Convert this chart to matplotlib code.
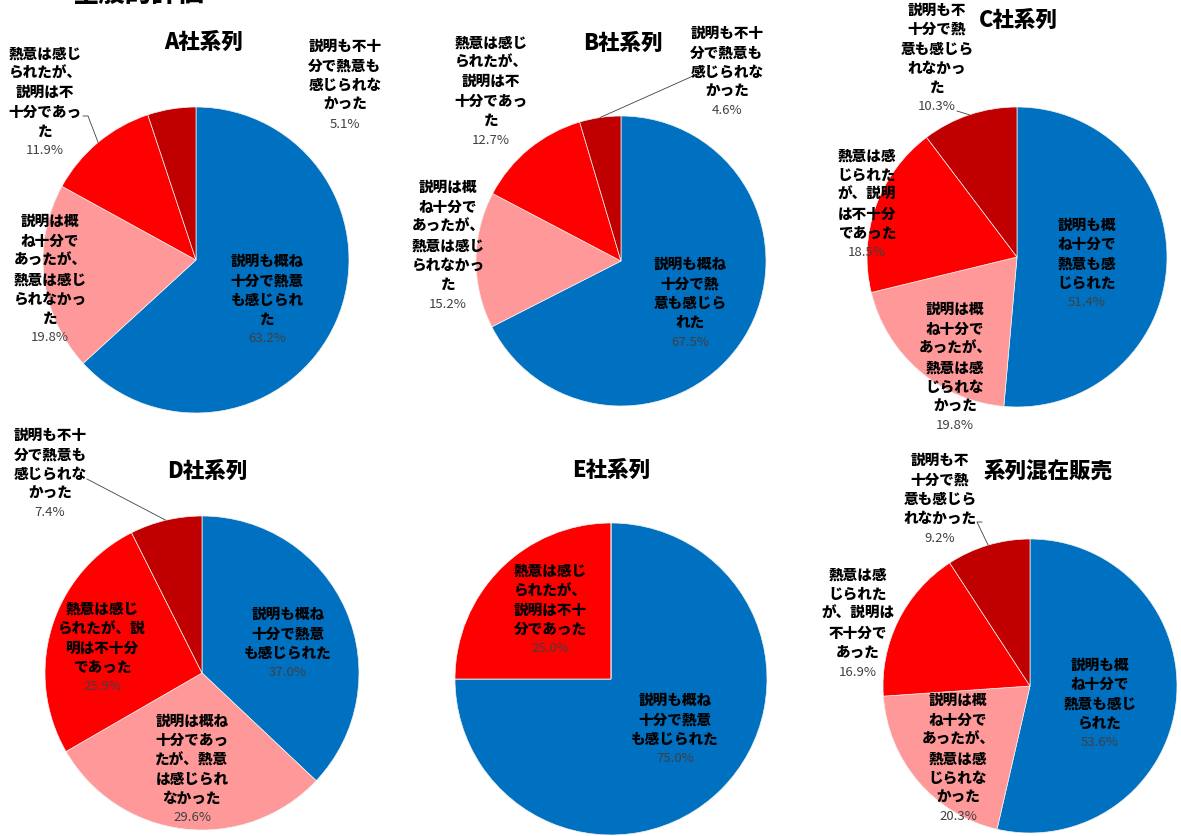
import matplotlib
matplotlib.use('Agg')
import matplotlib.pyplot as plt
import numpy as np

plt.rcParams['font.family'] = ['Noto Sans CJK JP', 'DejaVu Sans']

W, H = 1181, 837

# ---------------- data ----------------
categories = ['説明も概ね十分で熱意も感じられた',
              '説明は概ね十分であったが、熱意は感じられなかった',
              '熱意は感じられたが、説明は不十分であった',
              '説明も不十分で熱意も感じられなかった']
colors = ['#0070C0', '#FF9999', '#FF0000', '#C00000']

main_title = '全般的評価'
titles = ['A社系列', 'B社系列', 'C社系列', 'D社系列', 'E社系列', '系列混在販売']

values_A = [63.2, 19.8, 11.9, 5.1]
values_B = [67.5, 15.2, 12.7, 4.6]
values_C = [51.4, 19.8, 18.5, 10.3]
values_D = [37.0, 29.6, 25.9, 7.4]
values_E = [75.0, 0.0, 25.0, 0.0]
values_M = [53.6, 20.3, 16.9, 9.2]
all_values = [values_A, values_B, values_C, values_D, values_E, values_M]

# wrapped label text (as displayed)
wrap_A = ['説明も概ね\n十分で熱意\nも感じられ\nた', '説明は概\nね十分で\nあったが、\n熱意は感じ\nられなかっ\nた',
          '熱意は感じ\nられたが、\n説明は不\n十分であっ\nた', '説明も不十\n分で熱意も\n感じられな\nかった']
wrap_B = ['説明も概ね\n十分で熱\n意も感じら\nれた', '説明は概\nね十分で\nあったが、\n熱意は感じ\nられなかっ\nた',
          '熱意は感じ\nられたが、\n説明は不\n十分であっ\nた', '説明も不十\n分で熱意も\n感じられな\nかった']
wrap_C = ['説明も概\nね十分で\n熱意も感\nじられた', '説明は概\nね十分で\nあったが、\n熱意は感\nじられな\nかった',
          '熱意は感\nじられた\nが、説明\nは不十分\nであった', '説明も不\n十分で熱\n意も感じら\nれなかっ\nた']
wrap_D = ['説明も概ね\n十分で熱意\nも感じられた', '説明は概ね\n十分であっ\nたが、熱意\nは感じられ\nなかった',
          '熱意は感じ\nられたが、説\n明は不十分\nであった', '説明も不十\n分で熱意も\n感じられな\nかった']
wrap_E = ['説明も概ね\n十分で熱意\nも感じられた', '', '熱意は感じ\nられたが、\n説明は不十\n分であった', '']
wrap_M = ['説明も概\nね十分で\n熱意も感じ\nられた', '説明は概\nね十分で\nあったが、\n熱意は感\nじられな\nかった',
          '熱意は感\nじられた\nが、説明は\n不十分で\nあった', '説明も不\n十分で熱\n意も感じら\nれなかった']
all_wraps = [wrap_A, wrap_B, wrap_C, wrap_D, wrap_E, wrap_M]

# ---------------- layout (pixels) ----------------
pie_geom = [(196, 261, 153), (621, 262, 145), (1017, 258, 150),
            (202, 674, 157), (611, 680, 156), (1030, 687, 147)]
title_pos = [(204, 42), (623, 43), (1018, 20), (207, 471), (611, 470), (1048, 471)]
# centre of percentage line per slice
pct_pos = [
    [(267, 339), (50, 338), (45, 151), (345, 124)],
    [(690, 342), (448, 304), (491, 140), (727, 111)],
    [(1087, 303), (955, 426), (867, 253), (937, 107)],
    [(288, 673), (192, 818), (102, 687), (50, 513)],
    [(675, 759), None, (550, 649), None],
    [(1100, 743), (958, 817), (858, 672), (940, 538)],
]
# leader line starting points (pixels) : (chart, slice) -> list of points
leaders = {
    (0, 2): [(83, 117), (88, 117)],
    (1, 3): [(698, 77), (693, 77)],
    (2, 3): [(957, 112)],
    (3, 3): [(87, 480)],
    (5, 3): [(982, 523), (977, 523)],
}

LINE_PITCH = 19.4

fig = plt.figure(figsize=(W / 100, H / 100), dpi=100)


def fx(px):
    return px / W


def fy(py):
    return 1 - py / H


fig.text(fx(139), fy(-6), main_title, ha='center', va='center',
         fontsize=19, fontweight='heavy', color='black')

for i, (vals, wraps) in enumerate(zip(all_values, all_wraps)):
    cx, cy, r = pie_geom[i]
    ax = fig.add_axes([fx(cx - r), fy(cy + r), 2 * r / W, 2 * r / H])
    wedges, _ = ax.pie(vals, colors=colors, startangle=90, counterclock=False,
                       radius=1.0, wedgeprops=dict(edgecolor='#f2f2f2', linewidth=0.5))
    ax.set_xlim(-1, 1)
    ax.set_ylim(-1, 1)
    ax.set_aspect('equal')
    ax.axis('off')

    tx, ty = title_pos[i]
    fig.text(fx(tx), fy(ty), titles[i], ha='center', va='center',
             fontsize=15.5, fontweight='heavy', color='black')

    for j, v in enumerate(vals):
        if v <= 0 or pct_pos[i][j] is None:
            continue
        px, py = pct_pos[i][j]
        fig.text(fx(px), fy(py), f'{v:.1f}%', ha='center', va='center',
                 fontsize=9.5, color='#404040')
        lines = wraps[j].split('\n')
        n = len(lines)
        for k, line in enumerate(lines):
            ly = py - LINE_PITCH * (n - k)
            fig.text(fx(px), fy(ly), line, ha='center', va='center',
                     fontsize=10.5, fontweight='heavy', color='black')

        if (i, j) in leaders:
            w = wedges[j]
            mid = np.deg2rad((w.theta1 + w.theta2) / 2)
            ex, ey = np.cos(mid), np.sin(mid)
            pts = [((p[0] - cx) / r, (cy - p[1]) / r) for p in leaders[(i, j)]]
            pts.append((ex, ey))
            xs, ys = zip(*pts)
            ax.plot(xs, ys, color='#404040', lw=0.6, clip_on=False)

fig.savefig('out.png', dpi=100)
